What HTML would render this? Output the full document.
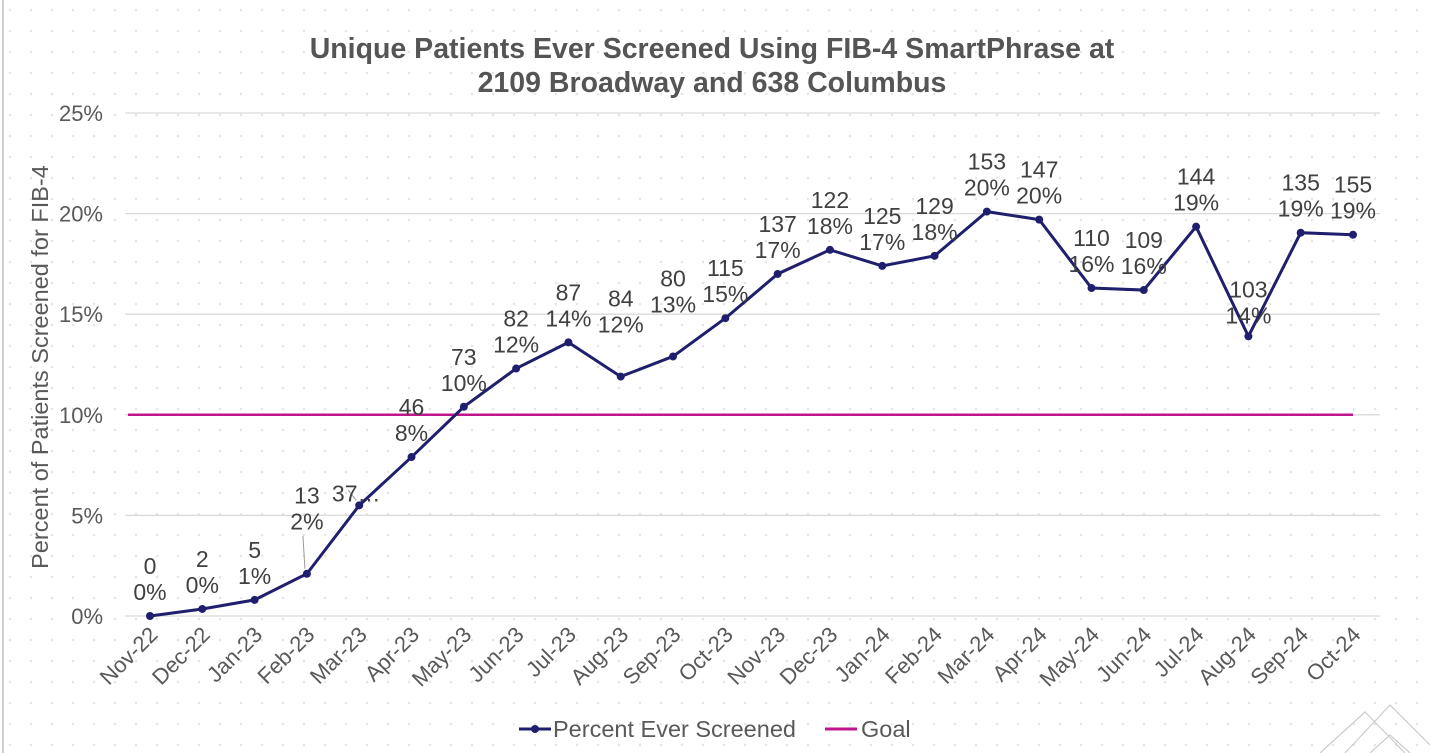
<!DOCTYPE html>
<html><head><meta charset="utf-8"><style>
body{margin:0;background:#fff;}
svg{display:block;font-family:"Liberation Sans",Arial,sans-serif;}
</style></head><body>
<svg id="chart" width="1430" height="753" viewBox="0 0 1430 753">
<defs><pattern id="dots" width="21" height="21" patternUnits="userSpaceOnUse"><circle cx="10" cy="10" r="1.3" fill="#e6e6e6"/></pattern></defs>
<rect width="1430" height="753" fill="#fff"/>
<rect width="1430" height="753" fill="url(#dots)"/>
<line x1="3" y1="0" x2="3" y2="753" stroke="#d0d0d0" stroke-width="2"/>
<text x="712" y="58" text-anchor="middle" font-size="28.5" font-weight="bold" fill="#555">Unique Patients Ever Screened Using FIB-4 SmartPhrase at</text>
<text x="712" y="92" text-anchor="middle" font-size="28.5" font-weight="bold" fill="#555">2109 Broadway and 638 Columbus</text>
<text transform="translate(48,367) rotate(-90)" text-anchor="middle" font-size="23.5" fill="#595959">Percent of Patients Screened for FIB-4</text>
<g id="grid"></g><g id="ylabels"></g><g id="xlabels"></g><g id="goal"></g><g id="series"></g><g id="labels"></g>
<g>
<line x1="519" y1="729" x2="551" y2="729" stroke="#1f1f6e" stroke-width="3"/><circle cx="535" cy="729" r="4" fill="#1f1f6e"/>
<text x="553" y="737" font-size="23.5" fill="#595959">Percent Ever Screened</text>
<line x1="825" y1="729" x2="857" y2="729" stroke="#c0158c" stroke-width="3"/>
<text x="861" y="737" font-size="23.5" fill="#595959">Goal</text>
</g>
<g fill="none" stroke="#ccc" stroke-width="1.2"><path d="M1320 753 L1365 712 L1405 753"/><path d="M1345 753 L1390 705 L1430 745"/><path d="M1370 753 L1390 735 L1410 753"/></g>
</svg>
<script>
const categories=["Nov-22","Dec-22","Jan-23","Feb-23","Mar-23","Apr-23","May-23","Jun-23","Jul-23","Aug-23","Sep-23","Oct-23","Nov-23","Dec-23","Jan-24","Feb-24","Mar-24","Apr-24","May-24","Jun-24","Jul-24","Aug-24","Sep-24","Oct-24"];
const percents=[0,0.35,0.8,2.1,5.5,7.9,10.4,12.3,13.6,11.9,12.9,14.8,17.0,18.2,17.4,17.9,20.1,19.7,16.3,16.2,19.35,13.9,19.05,18.95];
const counts=[0,2,5,13,37,46,73,82,87,84,80,115,137,122,125,129,153,147,110,109,144,103,135,155];
const goal=[10];
const yTicks=[0,5,10,15,20,25];
const NS="http://www.w3.org/2000/svg";
const x0=150,x1=1353,yb=616,yt=113;
const xs=i=>x0+(x1-x0)*i/(categories.length-1);
const ys=v=>yb-(yb-yt)*v/25;
function mk(p,tag,at,txt){const e=document.createElementNS(NS,tag);for(const k in at)e.setAttribute(k,at[k]);if(txt!==undefined)e.textContent=txt;document.getElementById(p).appendChild(e);return e;}
yTicks.forEach(t=>{
 const l=mk("grid","line",{x1:125,x2:1380,y1:ys(t),y2:ys(t),stroke:"#d9d9d9","stroke-width":1.3});
 
 
 const tx=mk("ylabels","text",{x:103,y:ys(t)+8,"text-anchor":"end","font-size":22,fill:"#595959"},t+"%");
 
 
});
categories.forEach((c,i)=>{
 const t=mk("xlabels","text",{transform:`translate(${xs(i)+9},${636}) rotate(-45)`,"text-anchor":"end","font-size":22,fill:"#595959"},c);
 
 
});
const g=mk("goal","line",{x1:xs(0)-22,x2:xs(categories.length-1),y1:ys(goal[0]),y2:ys(goal[0]),stroke:"#c0158c","stroke-width":2.5});


const pl=mk("series","polyline",{points:percents.map((v,i)=>xs(i)+","+ys(v)).join(" "),fill:"none",stroke:"#1f1f6e","stroke-width":3});


percents.forEach((v,i)=>{
 const c=mk("series","circle",{cx:xs(i),cy:ys(v),r:4,fill:"#1f1f6e"});
 
 
 let x=xs(i),y=ys(v),off=0;
 if(counts[i]===13||counts[i]===84||counts[i]===80)off=28;
 if(counts[i]===103)off=-3;
 if(counts[i]===37){
  mk("labels","line",{x1:x-3,y1:y-5,x2:x-11,y2:y-15,stroke:"#999","stroke-width":1});
  const t=mk("labels","text",{x:x-3,y:y-4,"text-anchor":"middle","font-size":23,fill:"#404040"},"37…");
  
  
  return;
 }
 if(counts[i]===13)mk("labels","line",{x1:x-2,y1:y-5,x2:x-4,y2:y-38,stroke:"#999","stroke-width":1});
 const a=mk("labels","text",{x:x,y:y-42-off,"text-anchor":"middle","font-size":23,fill:"#404040"},counts[i]);
 
 
 const b=mk("labels","text",{x:x,y:y-16-off,"text-anchor":"middle","font-size":23,fill:"#404040"},Math.round(v)+"%");
 
 
});
</script>
</body></html>
